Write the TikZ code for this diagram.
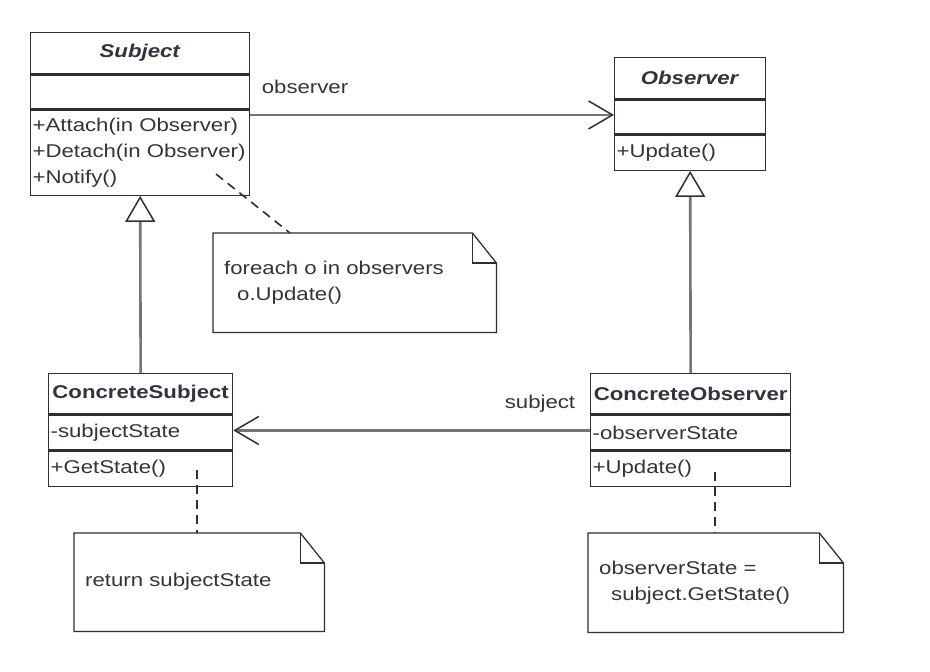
\documentclass[tikz,border=0pt]{standalone}
\usepackage{fontspec}
\setmainfont{Liberation Sans}[FakeStretch=1.2]
\usetikzlibrary{arrows.meta}
\definecolor{ink}{HTML}{2E2E3A}
\definecolor{txt}{HTML}{333340}
\definecolor{conn}{HTML}{747474}
\begin{document}
\begin{tikzpicture}[x=1pt,y=-1pt,
  font=\fontsize{18.5}{26}\selectfont,
  comp/.style={draw=ink, line width=1.3pt, anchor=north west, inner xsep=2pt, inner ysep=0pt, align=left, text=txt},
  ctitle/.style={comp, align=center, font=\fontsize{18.5}{26}\selectfont\bfseries},
  inh/.style={draw=conn, line width=2.6pt, -{Triangle[open, length=26pt, width=30pt, line width=1.5pt, color=ink, fill=white]}},
  assoc/.style={draw=conn, line width=2.4pt, -{Straight Barb[length=24pt, width=28pt, line width=1.5pt, color=ink]}},
  notebox/.style={anchor=north west, inner xsep=11pt, inner ysep=0pt, align=left, text=txt},
  dashln/.style={draw=ink, line width=1.6pt, dash pattern=on 9pt off 6pt},
  lbl/.style={text=txt, inner sep=0pt}
]
\useasboundingbox[fill=white] (0,0) rectangle (930,672);

% Subject
\node[ctitle, text width=215pt, minimum height=41pt] (subjT) at (30,32) {\textit{Subject}};
\node[comp, text width=215pt, minimum height=34pt] (subjA) at (subjT.south west) {};
\node[comp, text width=215pt, minimum height=85pt] (subjO) at (subjA.south west) {+Attach(in Observer)\\+Detach(in Observer)\\+Notify()};

% Observer
\node[ctitle, text width=147pt, minimum height=41pt] (obsT) at (614,57) {\textit{Observer}};
\node[comp, text width=147pt, minimum height=34pt] (obsA) at (obsT.south west) {};
\node[comp, text width=147pt, minimum height=35pt] (obsO) at (obsA.south west) {+Update()};

% ConcreteSubject
\node[ctitle, text width=180pt, minimum height=40pt] (csT) at (48,373) {ConcreteSubject};
\node[comp, text width=180pt, minimum height=35pt] (csA) at (csT.south west) {-subjectState};
\node[comp, text width=180pt, minimum height=35pt] (csO) at (csA.south west) {+GetState()};

% ConcreteObserver
\node[ctitle, text width=196pt, minimum height=40pt] (coT) at (590,373) {ConcreteObserver};
\node[comp, text width=196pt, minimum height=35pt] (coA) at (coT.south west) {-observerState};
\node[comp, text width=196pt, minimum height=35pt] (coO) at (coA.south west) {+Update()};

% Notes
\node[notebox, text width=261pt, minimum height=99pt] (n1) at (213,233) {foreach o in observers\\\hspace*{13pt}o.Update()};
\node[notebox, text width=228pt, minimum height=98pt] (n2) at (74,533) {return subjectState};
\node[notebox, text width=233pt, minimum height=99pt] (n3) at (588,533) {observerState =\\\hspace*{12pt}subject.GetState()};
\foreach \n in {n1,n2,n3}{
  \draw[ink, line width=1.3pt, line join=miter]
    (\n.north west) -- ([xshift=-24pt]\n.north east) -- ([yshift=-30pt]\n.north east)
    -- (\n.south east) -- (\n.south west) -- cycle;
  \draw[ink, line width=1.3pt] ([xshift=-24pt]\n.north east) |- ([yshift=-30pt]\n.north east);
}

% Inheritance
\draw[inh] (csT.north) -- (subjO.south);
\draw[inh] (coT.north) -- (obsO.south);

% Associations
\draw[assoc] ([yshift=2pt]obsA.west -| subjO.east) -- ([yshift=2pt]obsA.west);
\node[lbl] (lobs) at (305,87) {observer};
\draw[assoc] ([yshift=2pt]coA.west) -- ([yshift=2pt]csA.east);
\node[lbl] (lsub) at (540,404) {subject};

% Note links
\coordinate (d1s) at (216,174);
\coordinate (d1e) at (290,233);
\draw[dashln] (d1s) -- (d1e);
\coordinate (d2s) at (197,470);
\draw[dashln] (d2s) -- (d2s |- n2.north);
\coordinate (d3s) at (715,472);
\draw[dashln] (d3s) -- (d3s |- n3.north);
\end{tikzpicture}
\end{document}
